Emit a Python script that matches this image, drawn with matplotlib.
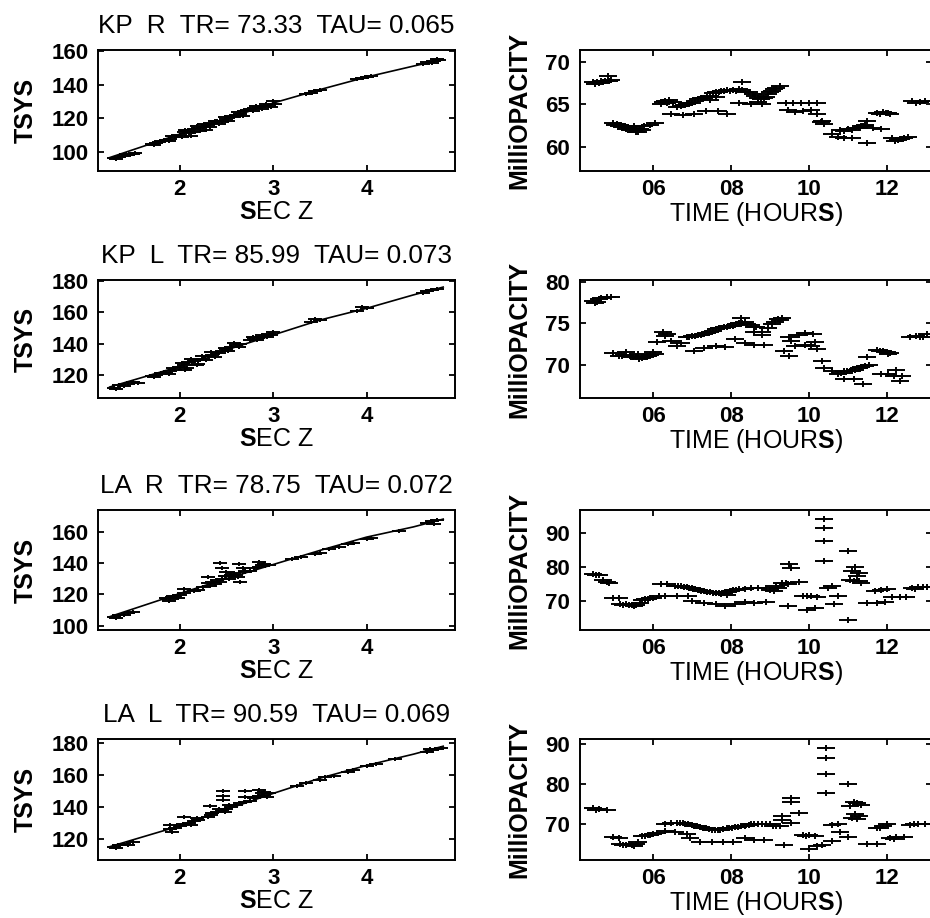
import numpy as np
import matplotlib.pyplot as plt
from matplotlib.path import Path

plt.rcParams['font.family'] = ['Liberation Sans', 'DejaVu Sans']
plt.rcParams['mathtext.fontset'] = 'custom'
plt.rcParams['mathtext.rm'] = 'Liberation Sans'
plt.rcParams['mathtext.bf'] = 'Liberation Sans:bold'

# ---- data ----
titles = ['KP  R  TR= 73.33  TAU= 0.065',
          'KP  L  TR= 85.99  TAU= 0.073',
          'LA  R  TR= 78.75  TAU= 0.072',
          'LA  L  TR= 90.59  TAU= 0.069']

fit_secz = [1.25, 2.0, 2.5, 3.0, 3.5, 4.0, 4.5, 4.82]
kp_r_fit = [96.5, 110.5, 119.5, 129.0, 137.0, 144.5, 151.0, 155.0]
kp_l_fit = [112.4, 125.5, 136.0, 145.5, 155.0, 162.5, 171.0, 176.0]
la_r_fit = [105.7, 120.5, 130.0, 139.0, 148.0, 156.5, 163.0, 168.0]
la_l_fit = [115.2, 128.2, 138.5, 148.5, 158.0, 166.0, 173.0, 178.0]

kp_r_tsys = np.array([
    [1.3, 96.2], [1.35, 97.0], [1.4, 97.5], [1.45, 98.0], [1.5, 98.4],
    [1.32, 95.5], [1.42, 98.5], [1.52, 99.2],
    [1.7, 104.5], [1.75, 105.2], [1.8, 106.3], [1.85, 107.0], [1.9, 107.5], [1.95, 108.8],
    [1.72, 103.8], [1.78, 106.0], [1.88, 106.5], [1.92, 109.5],
    [2.0, 110.0], [2.05, 111.5], [2.08, 112.5], [2.1, 111.0], [2.15, 113.5], [2.2, 114.0],
    [2.25, 114.5], [2.3, 116.0], [2.35, 117.2], [2.12, 109.5], [2.28, 113.0],
    [2.02, 108.5], [2.06, 113.0], [2.14, 112.0], [2.18, 115.5], [2.22, 112.5],
    [2.26, 116.5], [2.32, 114.5], [2.38, 118.5],
    [2.4, 118.0], [2.45, 117.5], [2.5, 119.5], [2.55, 121.0], [2.6, 122.0], [2.65, 122.5],
    [2.42, 116.5], [2.48, 120.5], [2.52, 118.5], [2.58, 120.5], [2.62, 123.5], [2.68, 121.5],
    [2.7, 124.0], [2.75, 125.5], [2.8, 126.0], [2.85, 126.5], [2.9, 127.0], [2.95, 127.5],
    [2.72, 125.0], [2.78, 124.0], [2.82, 127.5], [2.88, 125.5], [2.92, 128.5], [2.98, 126.5],
    [3.0, 130.5], [3.02, 128.5], [3.35, 134.5], [3.45, 136.0], [3.5, 136.5], [3.4, 135.0],
    [3.9, 143.5], [4.0, 144.5], [4.05, 145.0], [3.95, 144.0],
    [4.6, 152.5], [4.65, 153.5], [4.72, 154.0], [4.78, 154.5], [4.7, 153.0], [4.75, 155.0]])

kp_l_tsys = np.array([
    [1.3, 112.0], [1.35, 113.5], [1.45, 114.5], [1.55, 115.0], [1.32, 111.0], [1.4, 113.0],
    [1.5, 115.5],
    [1.7, 119.5], [1.75, 120.0], [1.85, 121.0], [1.9, 122.5], [1.95, 123.5],
    [1.72, 118.5], [1.8, 121.5], [1.88, 120.5], [1.93, 124.5],
    [2.0, 125.0], [2.05, 126.5], [2.1, 128.0], [2.15, 129.0], [2.2, 129.5], [2.25, 130.5],
    [2.3, 132.0], [2.35, 133.0], [2.08, 124.5], [2.2, 127.0],
    [2.02, 127.5], [2.06, 123.5], [2.12, 130.5], [2.18, 126.5], [2.24, 132.0],
    [2.28, 129.5], [2.33, 134.5], [2.38, 131.5],
    [2.45, 135.5], [2.5, 136.5], [2.55, 138.0], [2.6, 139.0], [2.65, 140.0],
    [2.42, 134.0], [2.48, 137.5], [2.52, 135.0], [2.58, 140.5], [2.63, 138.0],
    [2.75, 142.5], [2.8, 143.5], [2.85, 144.0], [2.9, 144.5], [2.95, 146.0], [3.0, 147.5],
    [2.78, 144.5], [2.83, 142.5], [2.88, 145.5], [2.93, 144.0], [2.98, 145.5],
    [3.4, 154.0], [3.5, 155.0], [3.45, 155.5], [3.9, 161.0], [4.0, 162.5], [3.95, 163.0],
    [4.6, 172.5], [4.65, 173.5], [4.75, 175.0], [4.7, 174.0]])

la_r_tsys = np.array([
    [1.3, 105.5], [1.35, 106.5], [1.45, 108.0], [1.5, 109.0], [1.32, 104.8], [1.4, 107.0],
    [1.85, 117.5], [1.9, 117.0], [1.95, 118.0], [2.0, 119.5], [2.05, 121.0], [2.15, 122.0],
    [1.88, 116.0], [1.93, 119.0], [1.98, 117.5],
    [2.2, 123.0], [2.25, 124.5], [2.3, 127.0], [2.35, 128.0], [2.4, 129.0], [2.45, 130.0],
    [2.32, 125.5], [2.38, 126.5], [2.43, 128.0], [2.48, 131.5],
    [2.5, 131.5], [2.55, 132.0], [2.6, 132.5], [2.7, 134.0], [2.75, 135.0], [2.85, 137.5],
    [2.53, 130.0], [2.58, 133.5], [2.62, 131.0], [2.8, 136.5], [2.88, 139.0],
    [2.9, 138.5], [2.95, 139.0], [3.2, 142.5], [3.3, 143.5], [3.45, 146.0], [3.5, 146.5],
    [3.6, 149.0], [3.7, 150.5], [3.8, 152.0], [3.85, 153.0], [4.0, 155.5], [4.05, 156.0],
    [4.35, 160.5], [4.65, 165.5], [4.7, 166.5], [4.75, 167.5], [4.72, 165.0],
    [2.05, 123.5], [2.3, 130.8], [2.43, 140.0], [2.45, 137.0], [2.5, 134.5],
    [2.63, 139.5], [2.68, 136.5], [2.7, 135.0], [2.64, 128.0], [2.85, 140.5], [2.9, 139.5]])

la_l_tsys = np.array([
    [1.3, 115.0], [1.35, 116.0], [1.4, 117.0], [1.5, 118.0], [1.32, 114.5], [1.45, 116.5],
    [1.9, 126.0], [1.95, 127.0], [2.0, 128.0], [2.1, 130.0], [2.15, 131.0], [2.2, 132.0],
    [1.92, 124.5], [2.03, 129.5], [2.12, 128.5], [2.18, 133.0],
    [2.3, 134.0], [2.35, 136.0], [2.4, 137.0], [2.45, 138.0], [2.5, 139.0], [2.55, 140.0],
    [2.33, 135.0], [2.42, 138.5], [2.48, 137.0], [2.53, 141.0],
    [2.6, 141.0], [2.7, 143.0], [2.75, 144.0], [2.8, 145.5], [2.85, 147.0], [2.9, 147.5],
    [2.65, 142.5], [2.78, 146.5], [2.88, 148.5], [2.93, 146.5],
    [2.95, 148.5], [3.25, 153.0], [3.35, 155.0], [3.5, 157.0], [3.55, 158.5], [3.65, 159.5],
    [3.8, 162.0], [3.85, 163.0], [4.0, 165.5], [4.1, 167.0], [4.3, 170.0],
    [4.65, 174.5], [4.7, 175.5], [4.75, 176.5], [4.8, 177.0], [4.68, 176.0],
    [1.9, 128.5], [2.05, 133.5], [2.32, 140.5], [2.46, 149.7], [2.46, 147.0], [2.46, 144.5],
    [2.7, 149.7], [2.7, 146.0], [2.85, 150.5], [2.9, 149.5]])

kp_r_opac = np.array([
    [4.45, 67.6], [4.55, 67.6], [4.65, 67.7], [4.75, 67.8], [4.82, 68.3], [4.85, 67.7],
    [4.5, 67.4], [4.6, 67.5], [4.7, 67.6], [4.9, 67.9],
    [4.95, 62.8], [5.05, 62.7], [5.15, 62.6], [5.25, 62.4], [5.35, 62.3], [5.45, 62.2],
    [5.5, 62.5], [5.55, 61.8], [5.65, 62.1], [5.75, 62.4], [5.9, 62.6], [6.05, 62.8],
    [5.0, 62.6], [5.1, 62.5], [5.2, 62.3], [5.3, 62.1], [5.4, 62.0], [5.6, 61.7], [5.7, 62.0],
    [6.2, 65.0], [6.3, 65.4], [6.4, 65.5], [6.5, 65.3], [6.25, 65.3], [6.35, 65.2],
    [6.45, 63.9], [6.75, 63.8], [7.05, 63.9], [7.35, 64.2], [7.65, 64.2], [7.9, 63.9],
    [6.7, 64.8], [6.85, 65.0], [7.0, 65.2], [7.15, 65.6], [7.3, 65.8], [7.45, 66.0],
    [6.6, 64.7], [6.78, 64.9], [6.92, 65.2], [7.08, 65.4], [7.22, 65.7], [7.38, 65.9],
    [7.6, 66.4], [7.75, 66.6], [7.9, 66.7], [8.05, 66.7], [8.2, 66.8], [8.35, 66.5],
    [7.52, 66.3], [7.68, 66.5], [7.82, 66.6], [7.98, 66.6], [8.12, 66.6], [8.28, 66.7],
    [8.55, 66.2], [8.7, 65.8], [8.85, 65.7], [8.95, 66.2], [9.05, 66.6], [9.15, 66.9],
    [8.45, 66.4], [8.62, 66.0], [8.78, 65.6], [8.9, 65.9], [9.0, 66.4], [9.1, 66.8],
    [9.25, 67.2], [8.29, 67.6], [7.45, 65.5], [7.6, 65.9], [8.7, 65.3],
    [8.2, 65.1], [8.5, 65.0], [8.8, 65.0],
    [9.4, 65.1], [9.6, 65.2], [9.8, 65.2], [10.0, 65.2], [10.2, 65.1],
    [9.45, 64.3], [9.65, 64.1], [9.85, 64.2], [10.05, 64.3], [10.2, 63.9],
    [10.35, 63.0], [10.4, 62.7], [10.3, 62.9],
    [10.6, 61.5], [10.75, 61.2], [10.9, 61.0], [11.1, 61.0],
    [10.8, 62.0], [11.0, 62.1], [11.2, 62.2], [11.35, 62.4], [11.45, 62.6], [11.5, 63.0],
    [10.9, 61.9], [11.1, 62.0], [11.28, 62.2], [11.4, 62.5],
    [11.5, 60.4],
    [11.75, 64.0], [11.9, 64.1], [12.05, 64.0], [12.1, 63.9], [11.82, 63.9], [11.98, 64.0],
    [11.65, 62.2], [11.85, 62.1],
    [12.15, 61.0], [12.3, 60.8], [12.45, 61.0], [12.55, 61.1], [12.22, 60.7], [12.38, 60.9],
    [12.65, 65.4], [12.85, 65.3], [13.0, 65.4], [12.75, 65.2]])

kp_l_opac = np.array([
    [4.45, 77.7], [4.55, 77.6], [4.65, 78.0], [4.8, 78.2], [4.9, 78.1], [4.5, 77.4],
    [4.6, 77.9],
    [4.95, 71.4], [5.1, 71.1], [5.25, 71.2], [5.4, 71.1], [5.55, 70.9], [5.7, 70.8],
    [5.85, 71.1], [6.0, 71.5], [6.05, 71.3], [5.3, 71.5], [5.6, 71.3],
    [5.18, 71.0], [5.48, 70.9], [5.62, 70.7], [5.78, 70.9], [5.92, 71.2],
    [6.1, 72.7], [6.25, 73.9], [6.35, 73.7], [6.3, 73.5],
    [6.45, 72.9], [6.6, 72.2], [6.7, 72.6], [6.85, 73.3],
    [7.0, 73.5], [7.15, 73.6], [7.3, 73.7], [7.45, 73.9], [7.6, 74.3], [7.75, 74.4],
    [6.92, 73.4], [7.08, 73.5], [7.22, 73.6], [7.38, 73.8], [7.52, 74.1], [7.68, 74.4],
    [7.9, 74.6], [8.05, 74.7], [8.2, 75.0], [8.35, 75.1], [8.5, 74.8], [8.65, 74.5],
    [7.82, 74.5], [7.98, 74.7], [8.12, 74.9], [8.28, 75.0], [8.42, 74.9], [8.58, 74.6],
    [8.8, 74.0], [8.95, 74.4], [9.05, 74.9], [9.2, 75.5], [9.3, 75.6], [8.25, 75.6],
    [8.6, 74.0], [8.8, 73.6], [9.12, 75.2], [9.25, 75.4],
    [7.05, 71.7], [7.3, 72.0], [7.6, 72.3], [7.85, 72.1], [8.1, 73.1], [8.35, 72.6],
    [8.6, 72.4], [8.85, 72.4],
    [9.35, 71.7], [9.5, 71.0],
    [9.5, 73.3], [9.55, 72.8], [9.65, 72.3], [9.75, 73.6], [9.9, 72.4], [10.05, 72.3],
    [10.2, 71.9], [9.9, 73.8], [10.1, 73.7], [10.15, 72.7],
    [10.35, 70.5], [10.4, 69.6],
    [10.6, 69.3], [10.75, 68.9], [10.9, 69.2], [11.05, 69.3], [11.2, 69.4], [11.35, 69.7],
    [11.45, 69.9], [11.55, 70.0], [10.82, 69.0], [10.98, 69.2], [11.12, 69.3], [11.28, 69.6],
    [10.9, 68.3], [11.15, 68.3], [11.4, 67.7],
    [11.5, 70.9],
    [11.75, 71.8], [11.9, 71.7], [12.0, 71.5], [12.1, 71.4], [11.82, 71.7], [12.05, 71.3],
    [11.85, 68.9], [12.05, 68.9], [12.25, 69.4], [12.2, 68.6], [12.35, 68.0], [12.4, 68.6],
    [12.6, 73.4], [12.75, 73.5], [12.95, 73.4], [13.05, 73.7], [12.85, 73.3]])

la_r_opac = np.array([
    [4.45, 78.0], [4.6, 77.8], [4.7, 76.2], [4.85, 75.5], [4.8, 75.8], [4.52, 77.7],
    [4.95, 71.0], [5.1, 70.9],
    [5.15, 69.3], [5.3, 69.2], [5.45, 69.0], [5.55, 68.9], [5.65, 69.5], [5.22, 69.0],
    [5.38, 69.1], [5.5, 68.7],
    [5.7, 70.3], [5.85, 70.8], [6.0, 71.1], [6.15, 71.7], [5.78, 70.6], [5.92, 71.0],
    [6.2, 75.1], [6.35, 75.0],
    [6.3, 71.7], [6.6, 71.5], [6.9, 71.5],
    [6.55, 74.6], [6.7, 74.4], [6.85, 74.2], [7.0, 74.0], [7.15, 73.4], [7.3, 73.0],
    [6.62, 74.5], [6.78, 74.3], [6.92, 74.1], [7.08, 73.7], [7.22, 73.2],
    [7.45, 72.8], [7.6, 72.5], [7.75, 72.3], [7.9, 72.8], [8.05, 73.3], [8.2, 73.6],
    [7.38, 72.9], [7.52, 72.6], [7.68, 72.4], [7.82, 72.5], [7.98, 73.1], [8.12, 73.4],
    [8.35, 73.7], [8.5, 73.9], [8.7, 73.9], [8.9, 74.0], [9.1, 73.2], [9.2, 73.9],
    [9.3, 75.3], [9.4, 75.5], [7.9, 71.8], [9.0, 73.5], [9.15, 74.4],
    [7.0, 70.0], [7.3, 69.5], [7.6, 69.3], [7.85, 68.8], [8.1, 69.3], [8.35, 69.8],
    [8.6, 69.6], [8.9, 69.9],
    [9.45, 68.7],
    [9.5, 81.0], [9.55, 79.9], [9.45, 75.0], [9.75, 75.8],
    [9.85, 71.7], [10.05, 71.5], [10.2, 71.3], [9.95, 71.6],
    [9.95, 67.5], [10.15, 68.0],
    [10.4, 94.3], [10.4, 91.6], [10.4, 87.8], [10.4, 81.9],
    [10.5, 74.0], [10.6, 74.4], [10.65, 69.3], [10.75, 71.7],
    [11.0, 84.7], [11.0, 64.6],
    [11.1, 79.1], [11.2, 80.0], [11.25, 77.4], [11.3, 78.5], [11.3, 76.1], [11.35, 75.5],
    [11.05, 76.3], [11.15, 76.0],
    [11.5, 69.4], [11.75, 69.4], [11.95, 69.8],
    [11.7, 73.0], [11.85, 73.4], [12.0, 73.8],
    [12.15, 71.3], [12.35, 71.2], [12.5, 71.4],
    [12.65, 74.0], [12.8, 74.3], [12.95, 74.3], [13.05, 74.2], [12.72, 73.6]])

la_l_opac = np.array([
    [4.45, 73.8], [4.6, 73.7], [4.8, 73.5], [4.52, 73.5],
    [4.95, 66.6], [5.1, 66.5],
    [5.15, 65.0], [5.3, 64.7], [5.45, 64.6], [5.55, 64.9], [5.6, 65.3], [5.22, 64.6],
    [5.38, 64.9], [5.5, 64.4],
    [5.7, 66.8], [5.85, 67.1], [6.0, 67.3], [6.1, 67.7], [5.78, 67.0], [5.92, 67.2],
    [6.3, 70.0], [6.45, 70.1],
    [6.3, 68.1], [6.55, 68.0], [6.85, 67.4],
    [6.6, 70.2], [6.75, 70.1], [6.9, 69.8], [7.05, 69.5], [7.2, 69.1], [7.35, 68.8],
    [6.68, 70.2], [6.82, 70.0], [6.98, 69.7], [7.12, 69.3], [7.28, 69.0],
    [7.5, 68.5], [7.65, 68.3], [7.8, 68.6], [7.95, 68.9], [8.1, 69.1], [8.25, 69.4],
    [7.42, 68.6], [7.58, 68.3], [7.72, 68.4], [7.88, 68.8], [8.02, 69.0], [8.18, 69.2],
    [8.45, 69.7], [8.6, 69.9], [8.8, 69.9], [9.0, 69.9], [9.15, 69.3], [9.25, 69.4],
    [8.35, 69.5], [8.52, 69.8], [8.7, 69.9], [8.9, 70.0], [9.08, 69.5],
    [6.95, 66.5], [7.2, 65.4], [7.5, 65.4], [7.8, 65.4], [8.05, 65.4], [8.35, 66.4],
    [8.6, 65.8], [8.85, 65.8],
    [9.3, 72.0], [9.3, 71.0], [9.35, 64.6],
    [9.55, 76.5], [9.55, 75.4], [9.55, 70.2], [9.75, 72.6],
    [9.85, 67.2], [10.0, 67.2], [10.15, 67.0], [9.92, 67.0],
    [10.0, 63.6], [10.2, 64.3], [10.35, 64.6],
    [10.43, 89.0], [10.43, 86.5], [10.43, 82.4], [10.43, 77.8],
    [10.6, 65.6], [10.6, 69.6], [10.75, 70.0], [10.8, 68.0], [11.0, 66.6],
    [11.0, 80.0],
    [11.05, 74.5], [11.15, 75.4], [11.25, 75.1], [11.35, 74.6], [11.2, 72.5], [11.25, 71.2],
    [11.1, 71.5], [11.3, 71.8],
    [11.5, 65.0], [11.75, 64.9],
    [11.75, 68.8], [11.9, 69.4], [12.0, 69.8], [11.82, 69.0],
    [12.1, 66.4], [12.25, 66.6], [12.45, 66.7], [12.18, 66.2],
    [12.6, 69.6], [12.8, 69.9], [13.0, 70.0], [12.7, 69.8]])

secz_ticks = [2, 3, 4]
hour_ticks = [6, 8, 10, 12]
hour_labels = ['06', '08', '10', '12']

# wide plus sign like the original plotter's symbol
wide_plus = Path([(-1.6, 0), (1.6, 0), (0, -0.55), (0, 0.55)],
                 [Path.MOVETO, Path.LINETO, Path.MOVETO, Path.LINETO])


def style_axes(ax):
    for s in ax.spines.values():
        s.set_linewidth(1.4)
    ax.tick_params(direction='in', top=True, right=True, length=4, width=1.3,
                   labelsize=16)
    ax.tick_params(axis='x', pad=6)
    ax.tick_params(axis='y', pad=7)
    for lab in ax.get_xticklabels() + ax.get_yticklabels():
        lab.set_fontweight('bold')


def draw_tsys(ax, pts, fit, title, yticks, ylim):
    ax.plot(fit_secz, fit, color='k', lw=1.2)
    ax.plot(pts[:, 0], pts[:, 1], ls='none', marker=wide_plus, ms=10,
            mec='k', mew=1.4)
    ax.set_xlim(1.125, 4.946)
    ax.set_ylim(*ylim)
    ax.set_xticks(secz_ticks)
    ax.set_yticks(yticks)
    ax.set_title(title, fontsize=18.8, pad=12)
    ax.set_xlabel(r'$\mathbf{S}$EC Z', fontsize=18, labelpad=0)
    ax.set_ylabel('TSYS', fontsize=18, fontweight='bold', labelpad=10)
    style_axes(ax)


def draw_opacity(ax, pts, yticks, ylim):
    ax.plot(pts[:, 0], pts[:, 1], ls='none', marker=wide_plus, ms=12.5,
            mec='k', mew=1.4)
    ax.set_xlim(4.108, 13.17)
    ax.set_ylim(*ylim)
    ax.set_xticks(hour_ticks)
    ax.set_xticklabels(hour_labels)
    ax.set_yticks(yticks)
    ax.set_xlabel(r'TIME (HOUR$\mathbf{S}$)', fontsize=18, labelpad=0)
    ax.set_ylabel('MilliOPACITY', fontsize=18, fontweight='bold', labelpad=10)
    style_axes(ax)


W, H = 930, 918
fig = plt.figure(figsize=(W / 100, H / 100), dpi=100)


def rect(left, top, right, bottom):
    return [left / W, 1 - bottom / H, (right - left) / W, (bottom - top) / H]


rows = [(50, 171), (280, 398), (510, 630), (739, 860)]

tsys_sets = [(kp_r_tsys, kp_r_fit, [100, 120, 140, 160], (88.5, 160.6)),
             (kp_l_tsys, kp_l_fit, [120, 140, 160, 180], (105.4, 180.5)),
             (la_r_tsys, la_r_fit, [100, 120, 140, 160], (97.2, 173.8)),
             (la_l_tsys, la_l_fit, [120, 140, 160, 180], (106.9, 182.5))]
opac_sets = [(kp_r_opac, [60, 65, 70], (57.15, 71.4)),
             (kp_l_opac, [70, 75, 80], (66.0, 80.2)),
             (la_r_opac, [70, 80, 90], (61.6, 96.9)),
             (la_l_opac, [70, 80, 90], (60.9, 91.2))]

for i, (top, bottom) in enumerate(rows):
    axl = fig.add_axes(rect(98, top, 455, bottom))
    pts, fit, yt, yl = tsys_sets[i]
    draw_tsys(axl, pts, fit, titles[i], yt, yl)

    axr = fig.add_axes(rect(580, top, 932, bottom))
    pts, yt, yl = opac_sets[i]
    draw_opacity(axr, pts, yt, yl)

fig.savefig('out.png', dpi=100)
